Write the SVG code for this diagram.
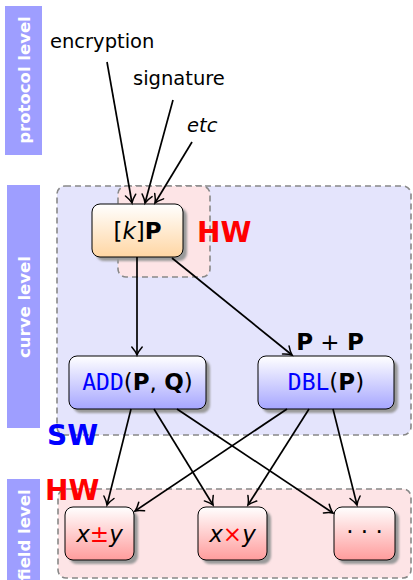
<svg xmlns="http://www.w3.org/2000/svg" width="413" height="580" viewBox="0 0 413 580">
<defs>
<style>
.bar{fill:#9e9eff}
.barlbl{font-family:"DejaVu Sans",sans-serif;font-weight:bold;font-size:16.5px;fill:#fff;text-anchor:middle}
.lbl{font-family:"DejaVu Sans",sans-serif;font-size:19.5px;fill:#000}
.dash{stroke:#888;stroke-width:1.6;stroke-dasharray:6 4}
.node{stroke:#000;stroke-width:1}
.shadow{fill:#9a9a9a;filter:url(#blur)}
.big{font-family:"DejaVu Sans",sans-serif;font-weight:bold;font-size:28px}
.nt{font-family:"DejaVu Sans",sans-serif;font-size:23px;fill:#000;text-anchor:middle}
.tt{font-family:"DejaVu Sans Mono","Liberation Mono",monospace;fill:#0000ff}
.conn line{stroke:#000;stroke-width:1.7;marker-end:url(#arr)}
</style>
<filter id="blur" x="-10%" y="-10%" width="120%" height="120%"><feGaussianBlur stdDeviation="1"/></filter>
<linearGradient id="gOr" x1="0" y1="0" x2="0" y2="1"><stop offset="0" stop-color="#ffffff"/><stop offset="1" stop-color="#ffd6a3"/></linearGradient>
<linearGradient id="gBl" x1="0" y1="0" x2="0" y2="1"><stop offset="0" stop-color="#ffffff"/><stop offset="1" stop-color="#a6a6ff"/></linearGradient>
<linearGradient id="gRd" x1="0" y1="0" x2="0" y2="1"><stop offset="0" stop-color="#ffffff"/><stop offset="1" stop-color="#ff9c9c"/></linearGradient>
<marker id="arr" viewBox="-9 -6 11 12" refX="0" refY="0" markerWidth="11" markerHeight="12" markerUnits="userSpaceOnUse" orient="auto" overflow="visible"><path d="M-8,-5.2 C-4.5,-2.2 -1.7,-0.6 0,0 C-1.7,0.6 -4.5,2.2 -8,5.2" fill="none" stroke="#000" stroke-width="1.5" stroke-linecap="round"/></marker>
</defs>

<g id="levels">
<rect class="bar" x="5" y="6" width="37" height="149"/>
<text class="barlbl" transform="translate(23.5,80) rotate(-90)" dy="6">protocol level</text>
<rect class="bar" x="7" y="185" width="33" height="243"/>
<text class="barlbl" transform="translate(23.5,307) rotate(-90)" dy="6">curve level</text>
<rect class="bar" x="7" y="479" width="33" height="110"/>
<text class="barlbl" transform="translate(23.5,535) rotate(-90)" dy="6">field level</text>
</g>

<g id="zones">
<rect id="sw-zone" class="dash" x="57" y="186" width="354" height="249" rx="8" fill="#e4e4fc"/>
<rect id="hw-zone-curve" class="dash" x="118" y="186" width="92" height="91" rx="8" fill="#fde4e6"/>
<rect id="hw-zone-field" class="dash" x="58" y="489" width="353" height="89" rx="8" fill="#fde4e6"/>
<text class="big" x="197" y="242" fill="#ff0000">HW</text>
<text class="big" x="47" y="445" fill="#0000ff">SW</text>
<text class="big" x="45" y="500" fill="#ff0000">HW</text>
</g>

<g id="protocol-labels">
<text class="lbl" x="50" y="48">encryption</text>
<text class="lbl" x="133" y="85">signature</text>
<text class="lbl" x="187" y="132" font-style="italic">etc</text>
</g>

<g id="kP">
<rect class="shadow" x="96" y="208" width="91" height="53" rx="8"/>
<rect class="node" x="92" y="204" width="91" height="53" rx="8" fill="url(#gOr)"/>
<text class="nt" x="137.5" y="239">[<tspan font-style="italic">k</tspan>]<tspan font-weight="bold">P</tspan></text>
</g>

<g id="ADD">
<rect class="shadow" x="73" y="360" width="137" height="53" rx="8"/>
<rect class="node" x="69" y="356" width="137" height="53" rx="8" fill="url(#gBl)"/>
<text class="nt" x="137.5" y="390"><tspan class="tt">ADD</tspan>(<tspan font-weight="bold">P</tspan>, <tspan font-weight="bold">Q</tspan>)</text>
</g>

<g id="DBL">
<rect class="shadow" x="262" y="360" width="136" height="53" rx="8"/>
<rect class="node" x="258" y="356" width="136" height="53" rx="8" fill="url(#gBl)"/>
<text class="nt" x="326" y="390"><tspan class="tt">DBL</tspan>(<tspan font-weight="bold">P</tspan>)</text>
<text class="nt" x="330" y="350" font-size="17px"><tspan font-weight="bold">P</tspan> + <tspan font-weight="bold">P</tspan></text>
</g>

<g id="add-sub">
<rect class="shadow" x="69" y="511" width="69" height="53" rx="8"/>
<rect class="node" x="65" y="507" width="69" height="53" rx="8" fill="url(#gRd)"/>
<text class="nt" x="99.5" y="542" font-size="24px"><tspan font-style="italic">x</tspan><tspan fill="#ff0000">±</tspan><tspan font-style="italic">y</tspan></text>
</g>

<g id="mul">
<rect class="shadow" x="202" y="511" width="69" height="53" rx="8"/>
<rect class="node" x="198" y="507" width="69" height="53" rx="8" fill="url(#gRd)"/>
<text class="nt" x="232.5" y="542" font-size="24px"><tspan font-style="italic">x</tspan><tspan fill="#ff0000">×</tspan><tspan font-style="italic">y</tspan></text>
</g>

<g id="others">
<rect class="shadow" x="338" y="511" width="61" height="53" rx="8"/>
<rect class="node" x="334" y="507" width="61" height="53" rx="8" fill="url(#gRd)"/>
<text class="nt" x="364.5" y="540" font-size="21px">· · ·</text>
</g>

<g id="connectors" class="conn">
<line x1="107" y1="62" x2="132" y2="203"/>
<line x1="173" y1="100" x2="145" y2="203"/>
<line x1="192" y1="142" x2="155" y2="203"/>
<line x1="137" y1="257" x2="137" y2="355"/>
<line x1="172" y1="258" x2="292" y2="355"/>
<line x1="131" y1="409" x2="107" y2="505"/>
<line x1="154" y1="409" x2="213" y2="505"/>
<line x1="177" y1="409" x2="333" y2="513"/>
<line x1="287" y1="409" x2="135" y2="511"/>
<line x1="309" y1="409" x2="248" y2="505"/>
<line x1="333" y1="409" x2="357" y2="505"/>
</g>
</svg>
